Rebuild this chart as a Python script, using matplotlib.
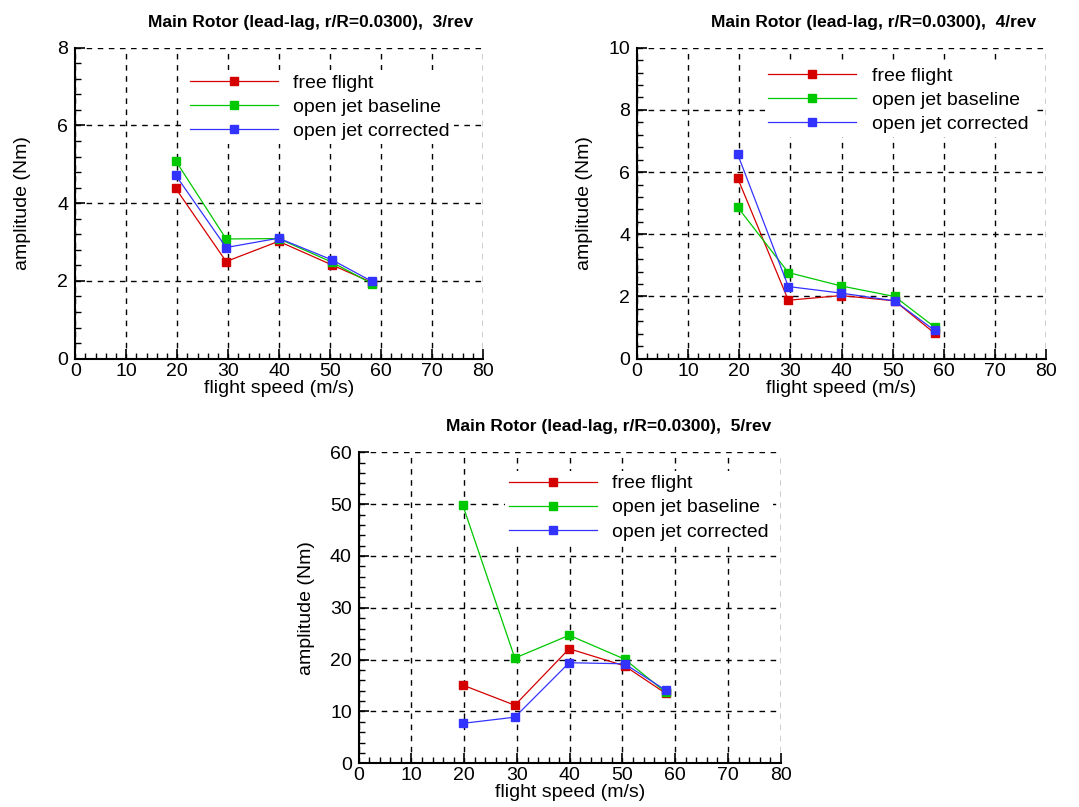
import numpy as np
import matplotlib
matplotlib.use("Agg")
import matplotlib.pyplot as plt
from matplotlib.ticker import MultipleLocator

plt.rcParams['font.family'] = ['Liberation Sans', 'DejaVu Sans']

# flight speeds of the test points (m/s)
speed = [19.7, 29.6, 39.9, 50.4, 58.2]

# lead-lag moment amplitudes (Nm) per harmonic
free_3 = [4.38, 2.50, 3.02, 2.41, 1.96]
base_3 = [5.09, 3.08, 3.09, 2.48, 1.93]
corr_3 = [4.72, 2.86, 3.10, 2.54, 1.99]

free_4 = [5.80, 1.88, 2.03, 1.86, 0.82]
base_4 = [4.87, 2.77, 2.34, 2.00, 1.02]
corr_4 = [6.57, 2.32, 2.11, 1.86, 0.91]

free_5 = [15.1, 11.2, 22.1, 18.8, 13.5]
base_5 = [49.9, 20.3, 24.7, 20.1, 13.7]
corr_5 = [7.7, 8.9, 19.4, 19.2, 14.1]

labels = ['free flight', 'open jet baseline', 'open jet corrected']
colors = ['#d40000', '#00c800', '#3333ff']

W, H = 1079, 807
fig = plt.figure(figsize=(W / 100, H / 100), dpi=100)


def panel(px, py, pw, ph, series, ymax, ystep, title, leg_xy):
    ax = fig.add_axes([px / W, 1 - (py + ph) / H, pw / W, ph / H])
    for vals, lab, c in zip(series, labels, colors):
        ax.plot(speed, vals, color=c, lw=0.9, marker='s', ms=5.6,
                mec=c, mfc=c, label=lab, zorder=3)
    ax.set_xlim(0, 80)
    ax.set_ylim(0, ymax)
    ax.xaxis.set_major_locator(MultipleLocator(10))
    ax.xaxis.set_minor_locator(MultipleLocator(2))
    ax.yaxis.set_major_locator(MultipleLocator(ystep))
    ax.yaxis.set_minor_locator(MultipleLocator(ystep / 5))
    ax.grid(True, which='major', color='black', ls=(0, (4, 4)), lw=1.0)
    ax.set_axisbelow(True)
    ax.spines['top'].set_visible(False)
    ax.spines['right'].set_visible(False)
    for s in ('left', 'bottom'):
        ax.spines[s].set_linewidth(1.5)
    ax.tick_params(which='both', direction='in', labelsize=14,
                   top=False, right=False)
    ax.tick_params(which='major', length=7, width=1.2)
    ax.tick_params(which='minor', length=4, width=1.0)
    ax.tick_params(axis='x', pad=3)
    ax.tick_params(axis='y', pad=5)
    ax.set_xlabel('flight speed (m/s)', fontsize=14)
    ax.set_ylabel('amplitude (Nm)', fontsize=14)
    ax.xaxis.set_label_coords(0.5, -0.068)
    ax.yaxis.set_label_coords(-44 / pw, 0.5)
    ax.annotate(title, xy=(1, 1), xycoords='axes fraction',
                xytext=(-7, 18.5), textcoords='offset points',
                ha='right', va='center', fontsize=12.5, fontweight='bold')
    leg = ax.legend(loc='upper left', bbox_to_anchor=leg_xy, fontsize=14,
                    frameon=True, framealpha=1, facecolor='white',
                    edgecolor='none', fancybox=False, borderpad=0.2,
                    borderaxespad=0, handlelength=4.5, handletextpad=0.8,
                    labelspacing=0.33, numpoints=1)
    leg.set_zorder(2.5)
    return ax


panel(75.3, 47.7, 407.7, 311, [free_3, base_3, corr_3], 8, 2,
      'Main Rotor (lead-lag, r/R=0.0300),  3/rev', (0.272, 0.928))
panel(637, 47.7, 409, 311, [free_4, base_4, corr_4], 10, 2,
      'Main Rotor (lead-lag, r/R=0.0300),  4/rev', (0.312, 0.95))
panel(358.7, 452.3, 422, 311, [free_5, base_5, corr_5], 60, 10,
      'Main Rotor (lead-lag, r/R=0.0300),  5/rev', (0.347, 0.94))

fig.savefig('out.png', dpi=100)
